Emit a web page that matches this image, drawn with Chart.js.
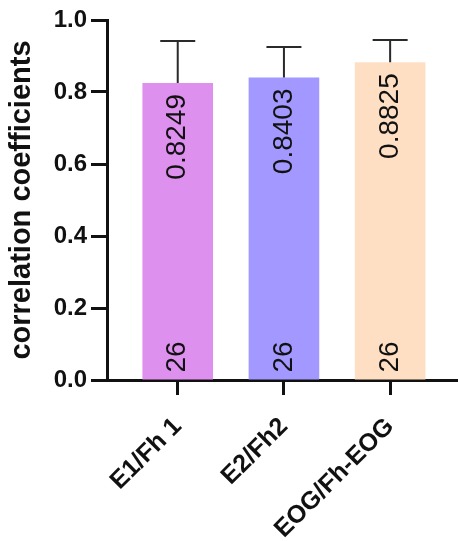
<!DOCTYPE html>
<html>
<head>
<meta charset="utf-8">
<script src="https://cdn.jsdelivr.net/npm/chart.js@4/dist/chart.umd.min.js"></script>
<style>
	html, body { margin: 0; padding: 0; background: #fff; }
	#wrap { width: 458px; height: 541px; }
</style>
</head>
<body>
<div id="wrap"><canvas id="graph_canvas"></canvas></div>
<script>
"use strict";

const FONT_FAMILY = "'Liberation Sans', Arial, Helvetica, sans-serif"

// data
const categories	= ["E1/Fh 1", "E2/Fh2", "EOG/Fh-EOG"]
const values		= [0.8249, 0.8403, 0.8825]
const errors		= [0.117, 0.085, 0.062]	// upper error (SD)
const counts		= [26, 26, 26]
const bar_colors	= ["#dd90ee", "#a298ff", "#ffdfc4"]
const y_ticks		= [0, 0.2, 0.4, 0.6, 0.8, 1.0]

// error bars + value labels drawn on top of the bars
const bar_extras = {
	id: "bar_extras",
	afterDatasetsDraw(chart) {
		const ctx	= chart.ctx
		const y		= chart.scales.y
		const meta	= chart.getDatasetMeta(0)

		meta.data.forEach((bar, i) => {
			const top_px = y.getPixelForValue(values[i] + errors[i])

			// error bar (upper only)
			ctx.save()
			ctx.strokeStyle	= "#2a2a2a"
			ctx.lineWidth	= 2
			ctx.beginPath()
			ctx.moveTo(bar.x, bar.y)
			ctx.lineTo(bar.x, top_px)
			ctx.moveTo(bar.x - 17.5, top_px)
			ctx.lineTo(bar.x + 17.5, top_px)
			ctx.stroke()
			ctx.restore()

			// mean value, vertical
			ctx.save()
			ctx.fillStyle		= "#111"
			ctx.font			= "28px " + FONT_FAMILY
			ctx.textBaseline	= "middle"
			ctx.translate(bar.x, bar.y + 11)
			ctx.rotate(-Math.PI / 2)
			ctx.textAlign = "right"
			ctx.fillText(values[i].toFixed(4), 0, 0)
			ctx.restore()

			// n, vertical at the base
			ctx.save()
			ctx.fillStyle		= "#111"
			ctx.font			= "28px " + FONT_FAMILY
			ctx.textBaseline	= "middle"
			ctx.translate(bar.x, bar.base - 7)
			ctx.rotate(-Math.PI / 2)
			ctx.textAlign = "left"
			ctx.fillText(String(counts[i]), 0, 0)
			ctx.restore()
		})
	}
}

const chart = new Chart(document.getElementById("graph_canvas"), {
	type: "bar",
	data: {
		datasets: [{
			data				: values.map((v, i) => ({x: i, y: v})),
			backgroundColor		: bar_colors,
			borderWidth			: 0,
			categoryPercentage	: 1,
			barPercentage		: 0.665,
		}]
	},
	options: {
		responsive			: true,
		maintainAspectRatio	: false,
		animation			: false,
		layout: {
			padding: { top: 20, right: 0, bottom: 0, left: 0 }
		},
		scales: {
			x: {
				type	: "linear",
				offset	: false,
				min		: -0.666,
				max		: 2.639,
				afterFit: (scale) => { scale.height = 161 },
				afterBuildTicks: (scale) => {
					scale.ticks = categories.map((c, i) => ({value: i}))
				},
				grid: {
					offset			: false,
					drawOnChartArea	: false,
					drawTicks		: true,
					tickLength		: 15,
					tickWidth		: 3,
					tickColor		: "#111",
				},
				border: { display: true, width: 3, color: "#111" },
				ticks: {
					autoSkip	: false,
					minRotation	: 45,
					maxRotation	: 45,
					padding		: 17,
					color		: "#111",
					font		: { family: FONT_FAMILY, size: 25, weight: "bold" },
					callback	: (value) => categories[value] ?? "",
				}
			},
			y: {
				min		: 0,
				max		: 1,
				afterFit: (scale) => { scale.width = 107 },
				afterBuildTicks: (scale) => {
					scale.ticks = y_ticks.map((v) => ({value: v}))
				},
				grid: {
					drawOnChartArea	: false,
					drawTicks		: true,
					tickLength		: 16,
					tickWidth		: 3,
					tickColor		: "#111",
				},
				border: { display: true, width: 3, color: "#111" },
				ticks: {
					padding		: 4,
					color		: "#111",
					font		: { family: FONT_FAMILY, size: 24, weight: "bold" },
					callback	: (value) => value.toFixed(1),
				},
				title: {
					display	: true,
					text	: "correlation coefficients",
					color	: "#111",
					padding	: { top: 5, bottom: 0 },
					font	: { family: FONT_FAMILY, size: 29, weight: "bold" },
				}
			}
		},
		plugins: {
			legend	: { display: false },
			tooltip	: { enabled: false },
		}
	},
	plugins: [bar_extras]
})
</script>
</body>
</html>
